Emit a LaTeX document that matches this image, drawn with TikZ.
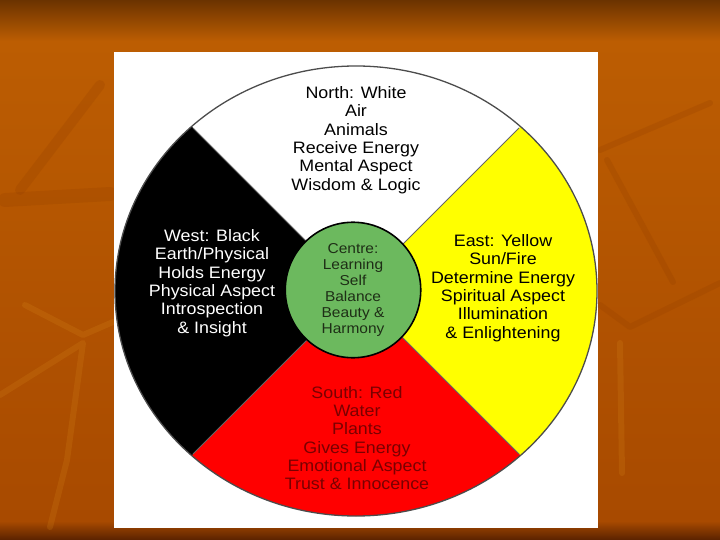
\documentclass[tikz,border=0pt]{standalone}
\usepackage{fontspec}
\setmainfont{Liberation Sans}[FakeStretch=1.08]
\usepackage{tikz}
\usetikzlibrary{positioning}
\definecolor{sfondo}{HTML}{BC5D02}
\definecolor{sfondomedio}{HTML}{A84A00}
\definecolor{sfondoalto}{HTML}{6B3300}
\definecolor{sfondobasso}{HTML}{5A2200}
\definecolor{foglia}{HTML}{8E3A00}
\definecolor{fogliachiara}{HTML}{D98A1A}
\definecolor{giallo}{HTML}{FFFF00}
\definecolor{rosso}{HTML}{FF0000}
\definecolor{verde}{HTML}{6CB95E}
\definecolor{rossoscuro}{HTML}{7A0000}
\definecolor{verdescuro}{HTML}{1E2E16}
\tikzstyle{testo} = [align=center, inner sep=0pt, font=\fontsize{16.6}{18.4}\selectfont]
\tikzstyle{centro} = [circle, minimum size=136, fill=verde, draw=black, line width=1.6, align=center, inner sep=0pt, font=\fontsize{14.4}{16}\selectfont, text=verdescuro]
\tikzstyle{bordo} = [draw=black!70, line width=1.3]
\tikzstyle{vena} = [line width=6, line cap=round, line join=round, opacity=0.2]

\begin{document}
\begin{tikzpicture}[x=1bp, y=-1bp]
\useasboundingbox (0,0) rectangle (720,540);
% sfondo
\shade[top color=sfondo, bottom color=sfondomedio] (0,40) rectangle (720,522);
\shade[top color=sfondoalto, bottom color=sfondo] (0,0) rectangle (720,41);
\shade[top color=sfondomedio, bottom color=sfondobasso] (0,521) rectangle (720,540);
% foglie
\draw[vena, foglia] (600,150) -- (710,103);
\draw[vena, foglia] (607,160) -- (673,282);
\draw[vena, foglia] (600,305) -- (630,327) -- (720,283);
\draw[vena, fogliachiara] (620,343) -- (622,473);
\draw[vena, foglia, line width=14] (5,200) -- (110,194);
\draw[vena, foglia, line width=10] (100,85) -- (20,190);
\draw[vena, fogliachiara] (25,305) -- (83,335) -- (113,322);
\draw[vena, fogliachiara] (0,395) -- (83,343) -- (67,460) -- (50,527);
% quadro bianco
\fill[white] (114,52) rectangle (598,528);
% ruota
\begin{scope}
\clip (356,291) ellipse [x radius=241, y radius=225];
\fill[white] (114,52) rectangle (598,528);
\fill[giallo] (356,291) -- ++(300,-300) -- ++(0,600) -- cycle;
\fill[rosso] (356,291) -- ++(300,300) -- ++(-600,0) -- cycle;
\fill[black] (356,291) -- ++(-300,300) -- ++(0,-600) -- cycle;
\end{scope}
\coordinate (no) at (193,128);
\coordinate (ne) at (519,128);
\coordinate (so) at (193,454);
\coordinate (se) at (519,454);
\draw[black!60, line width=0.8] (no) -- (se);
\draw[black!60, line width=0.8] (ne) -- (so);
\draw[bordo] (356,291) ellipse [x radius=241, y radius=225];
% testi
\node[testo] (nord) at (356,140) {North: White\\Air\\Animals\\Receive Energy\\Mental Aspect\\Wisdom \& Logic};
\node[testo, text=white] (ovest) at (212,283) {West: Black\\Earth/Physical\\Holds Energy\\Physical Aspect\\Introspection\\\& Insight};
\node[testo] (est) at (503,288) {East: Yellow\\Sun/Fire\\Determine Energy\\Spiritual Aspect\\Illumination\\\& Enlightening};
\node[testo, text=rossoscuro] (sud) at (357,438) {South: Red\\Water\\Plants\\Gives Energy\\Emotional Aspect\\Trust \& Innocence};
\node[centro] (centre) at (353,290) {Centre:\\Learning\\Self\\Balance\\Beauty \&\\Harmony};
\end{tikzpicture}
\end{document}
